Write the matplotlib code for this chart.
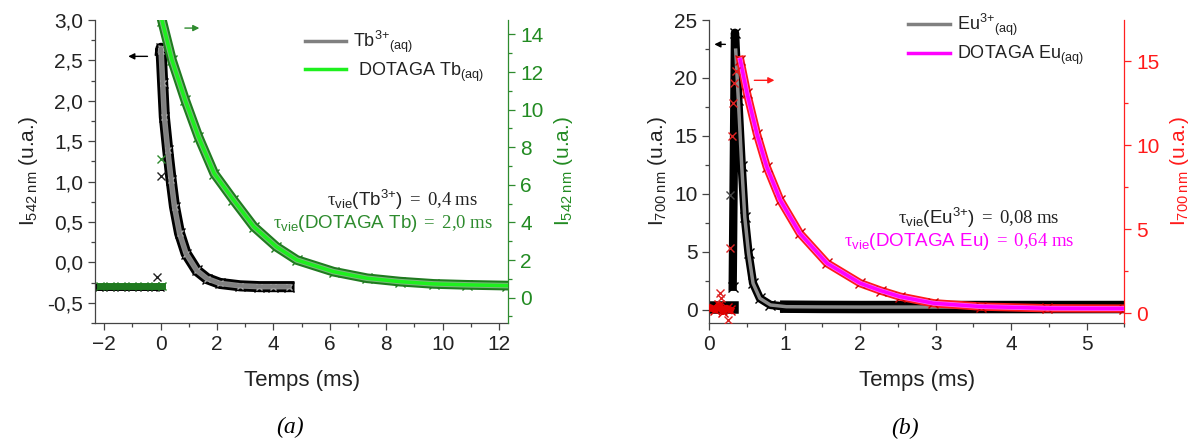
import matplotlib
matplotlib.use('Agg')
import matplotlib.pyplot as plt
from matplotlib.ticker import MultipleLocator, FuncFormatter
from matplotlib.lines import Line2D

plt.rcParams['font.family'] = ['Liberation Sans', 'DejaVu Sans']
plt.rcParams['mathtext.default'] = 'regular'
plt.rcParams['mathtext.fontset'] = 'custom'
plt.rcParams['mathtext.rm'] = 'Liberation Serif'
plt.rcParams['mathtext.it'] = 'Liberation Serif:italic'
plt.rcParams['mathtext.bf'] = 'Liberation Serif:bold'

# ---------------- Panel (a) data ----------------
# Tb3+ (left axis)
tb_base_t = [-2.2, -1.8, -1.4, -1.0, -0.6, -0.2, -0.02]
tb_base_i = [-0.30, -0.30, -0.30, -0.30, -0.30, -0.30, -0.30]
tb_t = [0.0, 0.01, 0.07, 0.13, 0.25, 0.37, 0.49, 0.67, 0.90, 1.28, 1.64, 2.10, 2.82, 3.50, 4.00, 4.55]
tb_i = [2.62, 2.65, 2.22, 1.80, 1.39, 1.02, 0.69, 0.36, 0.11, -0.10, -0.20, -0.26, -0.29, -0.30, -0.30, -0.30]
tb_out_t = [0.0, -0.13]
tb_out_i = [1.07, -0.18]

# DOTAGA Tb (right axis)
dtb_base_t = [-2.15, -1.8, -1.4, -1.0, -0.6, -0.2, 0.05]
dtb_base_i = [0.62, 0.62, 0.62, 0.62, 0.62, 0.62, 0.62]
dtb_t = [0.05, 0.40, 0.87, 1.34, 1.90, 2.58, 3.30, 4.10, 4.83, 6.13, 7.32, 8.50, 9.68, 10.87, 12.28]
dtb_i = [14.73, 12.64, 10.50, 8.56, 6.60, 5.20, 3.78, 2.71, 2.00, 1.38, 1.03, 0.85, 0.73, 0.68, 0.64]
dtb_out_t = [0.0]
dtb_out_i = [7.4]

# ---------------- Panel (b) data ----------------
# Eu3+ (left axis)
eu_base_t = [0.0, 0.1, 0.2, 0.3]
eu_base_i = [0.28, 0.28, 0.28, 0.28]
eu_t = [0.31, 0.34, 0.385, 0.43, 0.47, 0.52, 0.58, 0.67, 0.81, 1.02, 1.5, 2.0, 3.0, 4.0, 5.0, 5.5]
eu_i = [2.0, 23.9, 18.1, 12.4, 8.0, 4.9, 2.3, 1.0, 0.43, 0.28, 0.26, 0.25, 0.25, 0.25, 0.25, 0.25]
eu_fit_t = [0.35, 0.385, 0.43, 0.47, 0.52, 0.58, 0.67, 0.81, 1.02, 1.5, 2.0, 3.0, 4.0, 5.0, 5.5]
eu_fit_i = [22.4, 18.1, 12.4, 8.0, 4.9, 2.3, 1.0, 0.43, 0.28, 0.26, 0.25, 0.25, 0.25, 0.25, 0.25]
eu_out_t = [0.275]
eu_out_i = [9.9]

# DOTAGA Eu (right axis)
deu_base_t = [0.03, 0.08, 0.13, 0.18, 0.23, 0.28]
deu_base_i = [0.3, 0.2, 0.5, 0.1, 0.3, 0.2]
deu_t = [0.41, 0.50, 0.63, 0.76, 0.94, 1.20, 1.56, 2.00, 2.27, 2.53, 2.97, 3.60, 4.48, 5.50]
deu_i = [15.08, 13.1, 10.7, 8.73, 6.74, 4.76, 2.98, 1.79, 1.35, 0.99, 0.60, 0.40, 0.30, 0.28]
deu_out_t = [0.14, 0.16, 0.25, 0.27, 0.30, 0.31, 0.33, 0.36]
deu_out_i = [1.2, 0.9, -0.4, 3.87, 10.57, 12.5, 13.7, 14.4]

W, H = 1195, 443
fig = plt.figure(figsize=(W / 100, H / 100), dpi=100)

def fpos(x0, x1, ytop, ybot):
    return [x0 / W, 1 - ybot / H, (x1 - x0) / W, (ybot - ytop) / H]

comma1 = FuncFormatter(lambda v, p: f"{v:.1f}".replace('.', ','))
intfmt = FuncFormatter(lambda v, p: f"{v:.0f}")

def style_host(ax):
    ax.spines['top'].set_visible(False)
    ax.spines['right'].set_visible(False)
    for s in ('left', 'bottom'):
        ax.spines[s].set_color('#444444')
        ax.spines[s].set_linewidth(0.9)
    ax.tick_params(which='both', direction='out', colors='#444444', width=0.9)
    ax.tick_params(which='major', length=5)
    ax.tick_params(which='minor', length=3)

def style_twin(ax, col):
    for s in ('left', 'top', 'bottom'):
        ax.spines[s].set_visible(False)
    ax.spines['right'].set_color(col)
    ax.spines['right'].set_linewidth(0.9)
    ax.tick_params(which='both', direction='out', colors=col, width=0.9)
    ax.tick_params(which='major', length=5)
    ax.tick_params(which='minor', length=3)
    ax.patch.set_visible(False)

TAU = r'$\mathrm{\tau}_{vie}$'

# ================= Panel (a) =================
ax1 = fig.add_axes(fpos(95, 508.3, 20, 323))
style_host(ax1)
ax1.set_xlim(-2.33, 12.33)
ax1.set_ylim(-0.75, 3.0)
ax1.xaxis.set_major_locator(MultipleLocator(2))
ax1.xaxis.set_minor_locator(MultipleLocator(1))
ax1.yaxis.set_major_locator(MultipleLocator(0.5))
ax1.yaxis.set_minor_locator(MultipleLocator(0.25))
ax1.yaxis.set_major_formatter(comma1)
ax1.tick_params(axis='y', labelsize=15, labelcolor='#222222')
ax1.tick_params(axis='x', labelsize=15, labelcolor='#222222')

ax1.plot(tb_base_t, tb_base_i, color='black', lw=5, marker='x', ms=6, mew=1, zorder=2)
ax1.plot(tb_t, tb_i, color='black', lw=8, marker='x', ms=7, mew=1, zorder=2)
ax1.plot(tb_t, tb_i, color='#8a8a8a', lw=4, marker='x', ms=5, mew=1, mec='#aaaaaa', zorder=3)
ax1.plot(tb_t, tb_i, color='#808080', lw=2.5, zorder=4)
ax1.plot(tb_out_t, tb_out_i, ls='none', marker='x', ms=6, mew=1, color='#222222', zorder=4)
ax1.set_xlabel('Temps (ms)', fontsize=16, color='#222222', labelpad=12)
ax1.set_ylabel('I$_{542\\ nm}$ (u.a.)', fontsize=15, color='#222222', labelpad=5)

ax1b = ax1.twinx()
style_twin(ax1b, '#2e8b2e')
ax1b.set_ylim(-1.35, 14.77)
ax1b.yaxis.set_major_locator(MultipleLocator(2))
ax1b.yaxis.set_minor_locator(MultipleLocator(1))
ax1b.yaxis.set_major_formatter(intfmt)
ax1b.tick_params(axis='y', labelsize=15, labelcolor='#228b22')
ax1b.plot(dtb_base_t, dtb_base_i, color='#1f7a1f', lw=5, marker='x', ms=6, mew=1, zorder=2)
ax1b.plot(dtb_t, dtb_i, color='#1f7a1f', lw=7, marker='x', ms=7, mew=1, zorder=2)
ax1b.plot(dtb_t, dtb_i, color='#7ab87a', lw=4, zorder=3)
ax1b.plot(dtb_t, dtb_i, color='#1ef01e', lw=2.5, zorder=4)
ax1b.plot(dtb_out_t, dtb_out_i, ls='none', marker='x', ms=6, mew=1, color='#2e8b2e', zorder=4)
ax1b.set_ylabel('I$_{542\\ nm}$ (u.a.)', fontsize=15, color='#228b22', labelpad=6)

# arrows
ax1.annotate('', xy=(-1.25, 2.55), xytext=(-0.37, 2.55),
             arrowprops=dict(arrowstyle='-|>', color='black', lw=1, mutation_scale=9))
ax1.annotate('', xy=(1.47, 2.9), xytext=(0.76, 2.9),
             arrowprops=dict(arrowstyle='-|>', color='#2e8b2e', lw=1, mutation_scale=9))

leg1 = ax1.legend(handles=[Line2D([], [], color='#808080', lw=2.5),
                           Line2D([], [], color='#1ef01e', lw=2.5)],
                  labels=['Tb$^{3{+}}$$_{(aq)}$', ' DOTAGA Tb$_{(aq)}$'],
                  loc='upper left', bbox_to_anchor=(0.468, 1.025), frameon=False,
                  fontsize=13, handlelength=2.3, handletextpad=0.4, labelspacing=0.3)
for t in leg1.get_texts():
    t.set_color('#222222')

ax1.text(0.927, 0.406, TAU + r'(Tb$^{3{+}}$)$\mathrm{\ =\ 0{,}4\ ms}$', transform=ax1.transAxes,
         ha='right', va='center', fontsize=13.5, color='#222222')
ax1.text(0.963, 0.33, TAU + r'(DOTAGA Tb)$\mathrm{\ =\ 2{,}0\ ms}$', transform=ax1.transAxes,
         ha='right', va='center', fontsize=13.5, color='#2e8b2e')

# ================= Panel (b) =================
ax2 = fig.add_axes(fpos(709.3, 1124.3, 20, 322.7))
style_host(ax2)
ax2.set_xlim(0, 5.5)
ax2.set_ylim(-1.1, 25)
ax2.xaxis.set_major_locator(MultipleLocator(1))
ax2.xaxis.set_minor_locator(MultipleLocator(0.5))
ax2.yaxis.set_major_locator(MultipleLocator(5))
ax2.yaxis.set_minor_locator(MultipleLocator(2.5))
ax2.tick_params(axis='y', labelsize=15, labelcolor='#222222')
ax2.tick_params(axis='x', labelsize=15, labelcolor='#222222')

ax2.plot(eu_base_t, eu_base_i, color='black', lw=9, marker='x', ms=7, mew=1, zorder=2)
ax2.plot(eu_t, eu_i, color='black', lw=6, marker='x', ms=7, mew=1, zorder=2)
ax2.plot(eu_t[9:], eu_i[9:], color='black', lw=9, zorder=2)
ax2.plot(eu_fit_t, eu_fit_i, color='#8c8c8c', lw=2.5, zorder=4)
ax2.plot(eu_out_t, eu_out_i, ls='none', marker='x', ms=6, mew=1, color='#444444', zorder=4)
ax2.set_xlabel('Temps (ms)', fontsize=16, color='#222222', labelpad=12)
ax2.set_ylabel('I$_{700\\ nm}$ (u.a.)', fontsize=15, color='#222222', labelpad=4)

ax2b = ax2.twinx()
style_twin(ax2b, '#ff2020')
ax2b.set_ylim(-0.56, 17.46)
ax2b.yaxis.set_major_locator(MultipleLocator(5))
ax2b.yaxis.set_minor_locator(MultipleLocator(2.5))
ax2b.tick_params(axis='y', labelsize=15, labelcolor='#ff1a1a')
ax2b.plot(deu_base_t, deu_base_i, color='#e00000', lw=5, marker='x', ms=7, mew=1, zorder=2)
ax2b.plot(deu_t, deu_i, color='#ff1a1a', lw=6, marker='x', ms=7, mew=1, mec='#cc0000', zorder=2)
ax2b.plot(deu_t, deu_i, color='#ff66ff', lw=3.5, zorder=3)
ax2b.plot(deu_t, deu_i, color='#ff00ff', lw=2.5, zorder=4)
ax2b.plot(deu_out_t, deu_out_i, ls='none', marker='x', ms=6, mew=1, color='#dd2222', zorder=4)
ax2b.set_ylabel('I$_{700\\ nm}$ (u.a.)', fontsize=15, color='#ff1a1a', labelpad=6)

ax2.annotate('', xy=(0.03, 22.9), xytext=(0.25, 22.9),
             arrowprops=dict(arrowstyle='-|>', color='black', lw=1, mutation_scale=9), zorder=6)
ax2.annotate('', xy=(0.90, 19.8), xytext=(0.56, 19.8),
             arrowprops=dict(arrowstyle='-|>', color='#ff1a1a', lw=1, mutation_scale=9), zorder=6)

leg2 = ax2.legend(handles=[Line2D([], [], color='#808080', lw=2.5),
                           Line2D([], [], color='#ff00ff', lw=2.5)],
                  labels=['Eu$^{3{+}}$$_{(aq)}$', 'DOTAGA Eu$_{(aq)}$'],
                  loc='upper left', bbox_to_anchor=(0.44, 1.08), frameon=False,
                  fontsize=13, handlelength=2.3, handletextpad=0.4, labelspacing=0.3)
for t in leg2.get_texts():
    t.set_color('#222222')

ax2.text(0.843, 0.346, TAU + r'(Eu$^{3{+}}$)$\mathrm{\ =\ 0{,}08\ ms}$', transform=ax2.transAxes,
         ha='right', va='center', fontsize=13.5, color='#222222')
ax2.text(0.879, 0.267, TAU + r'(DOTAGA Eu)$\mathrm{\ =\ 0{,}64\ ms}$', transform=ax2.transAxes,
         ha='right', va='center', fontsize=13.5, color='#ff00ff')

# panel labels
fig.text(290 / W, 1 - 427 / H, '(a)', ha='center', va='center', fontsize=17,
         family='Liberation Serif', style='italic')
fig.text(905 / W, 1 - 428 / H, '(b)', ha='center', va='center', fontsize=17,
         family='Liberation Serif', style='italic')

fig.savefig('out.png', dpi=100)
